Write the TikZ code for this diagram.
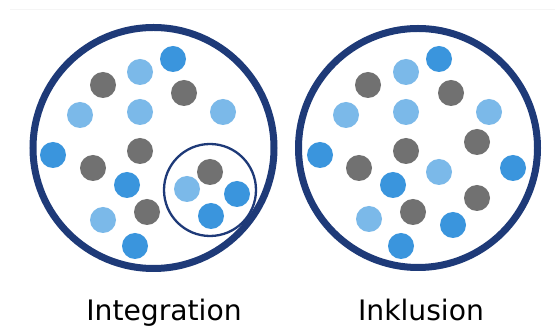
\documentclass[tikz,border=0pt]{standalone}
\usepackage{fontspec}
\setmainfont{DejaVu Sans}
\definecolor{navy}{HTML}{1E3A78}
\definecolor{dgray}{HTML}{717171}
\definecolor{lblue}{HTML}{7BB9E9}
\definecolor{mblue}{HTML}{3A95DD}
\tikzset{
  dot/.style={circle, minimum size=26pt, inner sep=0pt, draw=none},
  G/.style={dot, fill=dgray},
  L/.style={dot, fill=lblue},
  B/.style={dot, fill=mblue},
  bigring/.style={circle, draw=navy, line width=7pt, inner sep=0pt},
  smallring/.style={circle, draw=navy, line width=2.3pt, inner sep=0pt},
  lab/.style={font=\fontsize{28.2}{32}\selectfont, anchor=base, inner sep=0pt}
}
\begin{document}
\begin{tikzpicture}[x=1pt,y=-1pt]
\useasboundingbox (0,0) rectangle (555,328);
\fill[white] (0,0) rectangle (555,328);
\draw[gray!8, line width=1pt] (10,10) coordinate (t1) -- (555,10) coordinate (t2);
% left ring
\node[bigring, minimum size=241pt] (leftring) at (153.5,148) {};
\node[smallring, minimum size=92pt] (inner) at (210,190) {};
\node[B] (l1) at (173,59) {};
\node[L] (l2) at (140,72) {};
\node[G] (l3) at (103,85) {};
\node[G] (l4) at (184,93) {};
\node[L] (l5) at (80,115) {};
\node[L] (l6) at (140,112) {};
\node[L] (l7) at (223,112) {};
\node[G] (l8) at (140,151) {};
\node[B] (l9) at (53,155) {};
\node[G] (l10) at (93,168) {};
\node[B] (l11) at (127,185) {};
\node[G] (l12) at (210,172) {};
\node[L] (l13) at (187,189) {};
\node[B] (l14) at (237,194) {};
\node[G] (l15) at (147,212) {};
\node[L] (l16) at (103,220) {};
\node[B] (l17) at (211,216) {};
\node[B] (l18) at (135,246) {};
% right ring
\node[bigring, minimum size=239pt] (rightring) at (418,148) {};
\node[B] (r1) at (439,59) {};
\node[L] (r2) at (406,72) {};
\node[G] (r3) at (368,85) {};
\node[G] (r4) at (451,93) {};
\node[L] (r5) at (346,115) {};
\node[L] (r6) at (406,112) {};
\node[L] (r7) at (489,112) {};
\node[G] (r8) at (406,151) {};
\node[G] (r9) at (477,142) {};
\node[B] (r10) at (320,155) {};
\node[G] (r11) at (359,168) {};
\node[L] (r12) at (439,172) {};
\node[B] (r13) at (513,168) {};
\node[B] (r14) at (393,185) {};
\node[G] (r15) at (477,198) {};
\node[G] (r16) at (413,212) {};
\node[L] (r17) at (369,219) {};
\node[B] (r18) at (453,225) {};
\node[B] (r19) at (401,246) {};
% labels
\node[lab] (integ) at (164,320.5) {Integration};
\node[lab] (inkl) at (421,320.5) {Inklusion};
\end{tikzpicture}
\end{document}
